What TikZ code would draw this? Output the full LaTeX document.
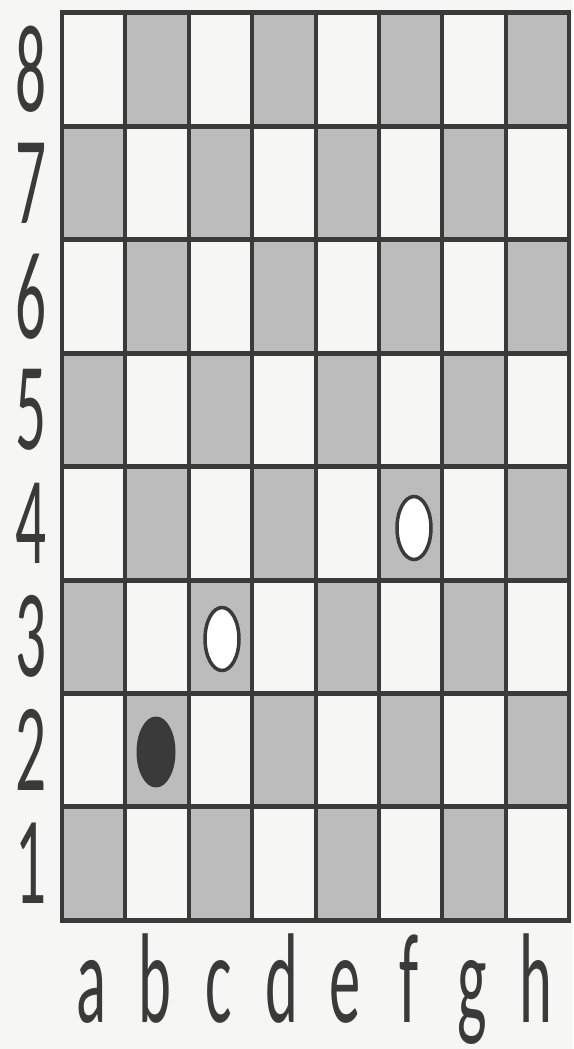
\documentclass[tikz,border=0pt]{standalone}
\usepackage{fontspec}
\setmainfont{Carlito}
\usepackage{graphicx}
\usetikzlibrary{positioning,shapes.geometric}

\definecolor{boardline}{HTML}{3A3A3A}
\definecolor{darksq}{HTML}{BCBCBC}
\definecolor{paper}{HTML}{F6F6F4}

\begin{document}
\begin{tikzpicture}[x=1pt,y=-1pt,
    coordlabel/.style={text=boardline,inner sep=0pt,font=\fontsize{68}{68}\selectfont},
    hline/.style={draw=boardline,line width=5pt},
    vline/.style={draw=boardline,line width=4pt},
    whitepiece/.style={ellipse,draw=boardline,line width=3.5pt,fill=white,
        minimum width=34pt,minimum height=63pt,inner sep=0pt},
    blackpiece/.style={ellipse,draw=boardline,line width=1pt,fill=boardline,
        minimum width=38pt,minimum height=70pt,inner sep=0pt}]
        % Paper
        \fill[paper] (0,0) rectangle (573,1049);
        \useasboundingbox (0,0) rectangle (573,1049);

        % Squares
        \foreach \c in {0,...,7}
          \foreach \r in {0,...,7}{
            \pgfmathtruncatemacro\odd{mod(\c+\r,2)}
            \ifnum\odd=1
              \fill[darksq] ({62+\c*63.4},{13+\r*113.4}) rectangle ++(63.4,113.4);
            \fi
          }

        % Grid
        \foreach \r in {0,...,8}
          \draw[hline] (60,{13+\r*113.4}) -- (571,{13+\r*113.4});
        \foreach \c in {0,...,8}
          \draw[vline] ({62+\c*63.4},13) -- ({62+\c*63.4},920.2);

        % Ranks and files
        \foreach \n [count=\i from 0] in {8,7,6,5,4,3,2,1}
          \node[coordlabel] (rank\n) at (31,{13+(\i+0.5)*113.4}) {\scalebox{0.9}[1.84]{\n}};
        \foreach \f [count=\i from 0] in {a,b,c,d,e,f,g,h}
          \node[coordlabel,anchor=base] (file\f) at ({62+(\i+0.5)*63.4-2},1022) {\scalebox{0.92}[1.88]{\f}};

        % Pieces
        \node[blackpiece] (b2) at (156,752) {};
        \node[whitepiece] (c3) at (222,639) {};
        \node[whitepiece] (f4) at (414,528) {};
      \end{tikzpicture}
\end{document}
